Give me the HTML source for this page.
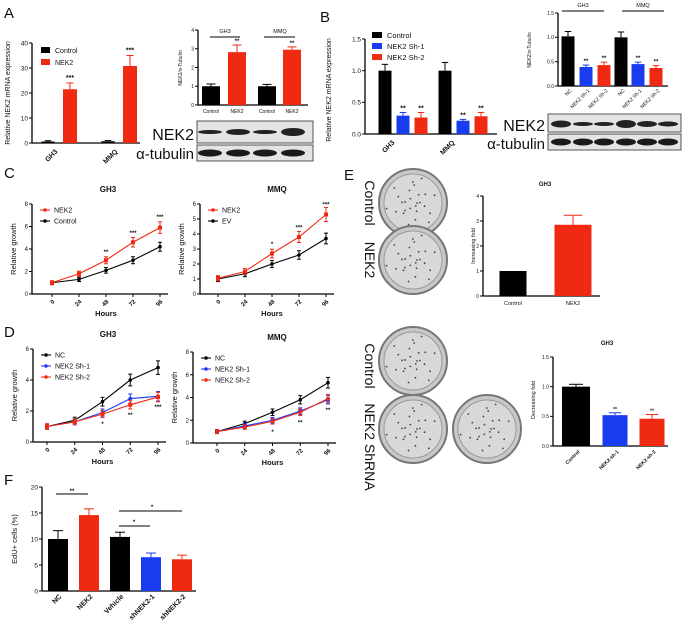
<!DOCTYPE html>
<html><head><meta charset="utf-8">
<style>
body{margin:0;background:#fff;}
svg{display:block;font-family:"Liberation Sans",Arial,sans-serif;}
text{fill:#111;}
</style></head>
<body>
<svg id="fig" width="685" height="631" viewBox="0 0 685 631" xmlns="http://www.w3.org/2000/svg">
<rect width="685" height="631" fill="#fff"/>
<g id="static">
<text x="4" y="18" font-size="15">A</text>
<text x="320" y="22" font-size="15">B</text>
<text x="4" y="178" font-size="15">C</text>
<text x="4" y="337" font-size="15">D</text>
<text x="344" y="180" font-size="15">E</text>
<text x="4" y="485" font-size="15">F</text>
</g>
</svg>
<script>
// ---------- DATA ----------
const aCats=["GH3","MMQ"];
const aControl=[0.6,0.7];
const aControlErr=[0.3,0.3];
const aNek2=[21.5,30.8];
const aNek2Err=[2.5,4.2];
const aTicks=[0,10,20,30,40];

const abCats=["Control","NEK2","Control","NEK2"];
const abVals=[1.0,2.82,1.0,2.95];
const abErr=[0.12,0.38,0.1,0.15];
const abTicks=[0,1,2,3,4];

const bCats=["GH3","MMQ"];
const bControl=[1.0,1.0];
const bSh1=[0.29,0.21];
const bSh2=[0.26,0.28];
const bErrC=[0.1,0.13];
const bErr1=[0.05,0.02];
const bErr2=[0.08,0.06];
const bTicks=[0,0.5,1.0,1.5];

const bbCats=["NC","NEK2 Sh-1","NEK2 Sh-2","NC","NEK2 Sh-1","NEK2 Sh-2"];
const bbVals=[1.02,0.39,0.43,1.0,0.45,0.37];
const bbErr=[0.1,0.04,0.06,0.11,0.04,0.05];
const bbTicks=[0,0.5,1.0,1.5];

const hours=[0,24,48,72,96];
const cGH3Nek2=[1.0,1.8,3.0,4.6,5.9];
const cGH3Ctrl=[1.0,1.3,2.1,3.0,4.2];
const cMMQNek2=[1.05,1.5,2.7,3.8,5.3];
const cMMQEv=[1.0,1.35,2.0,2.6,3.7];
const dGH3NC=[1.0,1.4,2.6,4.0,4.8];
const dGH3Sh1=[1.0,1.3,1.9,2.8,2.95];
const dGH3Sh2=[1.0,1.3,1.8,2.4,2.9];
const dMMQNC=[1.0,1.7,2.7,3.8,5.3];
const dMMQSh1=[1.0,1.5,2.0,2.8,3.8];
const dMMQSh2=[1.0,1.4,1.9,2.7,3.9];

const e1Cats=["Control","NEK2"];
const e1Vals=[1.0,2.85];
const e1Err=[0,0.38];
const e1Ticks=[0,1,2,3,4];
const e2Cats=["Control","NEK2-sh-1","NEK2-sh-2"];
const e2Vals=[1.0,0.52,0.46];
const e2Err=[0.04,0.04,0.07];
const e2Ticks=[0,0.5,1.0,1.5];

const fCats=["NC","NEK2","Vehicle","shNEK2-1","shNEK2-2"];
const fVals=[10.0,14.6,10.4,6.5,6.1];
const fErr=[1.6,1.2,0.9,0.8,0.8];
const fTicks=[0,5,10,15,20];

// ---------- HELPERS ----------
const NS="http://www.w3.org/2000/svg";
const svg=document.getElementById('fig');
function el(tag,attrs,parent,txt){const e=document.createElementNS(NS,tag);for(const k in attrs)e.setAttribute(k,attrs[k]);if(txt!==undefined)e.textContent=txt;(parent||svg).appendChild(e);return e;}
const RED="#f02a12",BLUE="#1a3cf0",BLK="#000";
function lin(d0,d1,r0,r1){return v=>r0+(v-d0)*(r1-r0)/(d1-d0);}

function yAxis(g,x,y,ticks,fs,fmt){
  const a=el('line',{x1:x,y1:y(ticks[0]),x2:x,y2:y(ticks[ticks.length-1]),stroke:'#000','stroke-width':1.3},g);
  
  
  ticks.forEach(t=>{
    el('line',{x1:x-3,y1:y(t),x2:x,y2:y(t),stroke:'#000','stroke-width':1},g);
    const tx=el('text',{x:x-4,y:y(t)+fs*0.35,'font-size':fs,'text-anchor':'end'},g,fmt?fmt(t):t);
    
    
  });
}
function xAxisLine(g,x0,x1,y){const l=el('line',{x1:x0,y1:y,x2:x1,y2:y,stroke:'#000','stroke-width':1.3},g);
  
  }
function bar(g,cx,w,y,v,err,color,name){
  const r=el('rect',{x:cx-w/2,y:y(v),width:w,height:y(0)-y(v),fill:color},g);
  
  
  if(err>0){el('line',{x1:cx,y1:y(v),x2:cx,y2:y(v+err),stroke:color,'stroke-width':1},g);
    el('line',{x1:cx-w*0.25,y1:y(v+err),x2:cx+w*0.25,y2:y(v+err),stroke:color,'stroke-width':1},g);}
}
function star(g,x,y,s,fs){el('text',{x:x,y:y,'font-size':fs||7,'text-anchor':'middle','font-weight':'bold'},g,s);}
function ylabel(g,x,y,t,fs){const e=el('text',{x:x,y:y,'font-size':fs,'text-anchor':'middle',transform:`rotate(-90 ${x} ${y})`},g,t);
  
  }
function rotLabel(g,x,y,t,fs,bold){el('text',{x:x,y:y,'font-size':fs,'text-anchor':'end','font-weight':bold?'bold':'normal',transform:`rotate(-45 ${x} ${y})`},g,t);}
function group(name){const g=el('g',{});return g;}

// ---------- PANEL A main ----------
(function(){
  const g=group('panel-a-mrna-chart');
  const y=lin(0,40,143,43);
  yAxis(g,32,y,aTicks,6.5);
  xAxisLine(g,32,140,143);
  ylabel(g,10,93,'Relative NEK2 mRNA expression',7);
  const gc=[55,115];
  aCats.forEach((c,i)=>{
    bar(g,gc[i]-7,13,y,aControl[i],aControlErr[i],BLK,'bar-control-'+c);
    bar(g,gc[i]+15,14,y,aNek2[i],aNek2Err[i],RED,'bar-nek2-'+c);
    star(g,gc[i]+15,y(aNek2[i]+aNek2Err[i])-3,'***');
    rotLabel(g,gc[i]+3,152,c,7,true);
  });
  el('rect',{x:41,y:47,width:9,height:6,fill:BLK},g);
  el('text',{x:55,y:53,'font-size':7},g,'Control');
  el('rect',{x:41,y:59,width:9,height:6,fill:RED},g);
  el('text',{x:55,y:65,'font-size':7},g,'NEK2');
})();

// ---------- PANEL A blot chart ----------
(function(){
  const g=group('panel-a-blot-quant');
  const y=lin(0,4,105,30);
  yAxis(g,198,y,abTicks,5);
  xAxisLine(g,198,308,105);
  ylabel(g,182,68,'NEK2/α-Tubulin',5);
  const xs=[211,237,267,292];
  abCats.forEach((c,i)=>{
    bar(g,xs[i],18,y,abVals[i],abErr[i],i%2?RED:BLK,'bar-'+c+'-'+i);
    el('text',{x:xs[i],y:113,'font-size':5,'text-anchor':'middle'},g,c);
    if(i%2)star(g,xs[i],y(abVals[i]+abErr[i])-2,'**',6);
  });
  el('line',{x1:210,y1:37,x2:240,y2:37,stroke:'#000'},g);
  el('line',{x1:264,y1:37,x2:295,y2:37,stroke:'#000'},g);
  el('text',{x:225,y:33,'font-size':5.5,'text-anchor':'middle'},g,'GH3');
  el('text',{x:280,y:33,'font-size':5.5,'text-anchor':'middle'},g,'MMQ');
  el('rect',{x:197,y:121,width:116,height:22,fill:'#e4e4e4',stroke:'#555'},g);
  el('rect',{x:197,y:145,width:116,height:16,fill:'#e4e4e4',stroke:'#555'},g);
  [[210,2],[238,3],[265,2],[293,4]].forEach(b=>el('ellipse',{cx:b[0],cy:132,rx:12,ry:b[1],fill:'#222'},g));
  [210,238,265,293].forEach(c=>el('ellipse',{cx:c,cy:153,rx:12,ry:3.5,fill:'#1a1a1a'},g));
  el('text',{x:194,y:140,'font-size':16,'text-anchor':'end'},g,'NEK2');
  el('text',{x:194,y:159,'font-size':15,'text-anchor':'end'},g,'α-tubulin');
})();

// ---------- PANEL B main ----------
(function(){
  const g=group('panel-b-mrna-chart');
  const y=lin(0,1.5,134,39);
  yAxis(g,365,y,bTicks,6.5,t=>t.toFixed(1));
  xAxisLine(g,365,497,134);
  ylabel(g,331,90,'Relative NEK2 mRNA expression',7);
  const gc=[403,463];
  const sets=[[bControl,bErrC,BLK,'control'],[bSh1,bErr1,BLUE,'sh1'],[bSh2,bErr2,RED,'sh2']];
  bCats.forEach((c,i)=>{
    sets.forEach((s,j)=>{
      const cx=gc[i]-18+j*18;
      bar(g,cx,13,y,s[0][i],s[1][i],s[2],'bar-'+s[3]+'-'+c);
      if(j>0)star(g,cx,y(s[0][i]+s[1][i])-2,'**');
    });
    rotLabel(g,gc[i]-8,143,c,7,true);
  });
  [['Control',BLK],['NEK2 Sh-1',BLUE],['NEK2 Sh-2',RED]].forEach((l,i)=>{
    el('rect',{x:372,y:32+i*11,width:10,height:6,fill:l[1]},g);
    el('text',{x:387,y:38+i*11,'font-size':7.5},g,l[0]);
  });
})();

// ---------- PANEL B blot chart ----------
(function(){
  const g=group('panel-b-blot-quant');
  const y=lin(0,1.5,86,13);
  yAxis(g,558,y,bbTicks,5,t=>t.toFixed(1));
  xAxisLine(g,558,668,86);
  ylabel(g,531,50,'NEK2/α-Tubulin',5);
  const xs=[568,586,604,621,638,656];
  const cols=[BLK,BLUE,RED,BLK,BLUE,RED];
  bbCats.forEach((c,i)=>{
    bar(g,xs[i],13,y,bbVals[i],bbErr[i],cols[i],'bar-'+c+'-'+i);
    if(i%3)star(g,xs[i],y(bbVals[i]+bbErr[i])-2,'**',6);
    rotLabel(g,xs[i]+4,91,c,5);
  });
  el('line',{x1:562,y1:11,x2:604,y2:11,stroke:'#000'},g);
  el('line',{x1:622,y1:11,x2:664,y2:11,stroke:'#000'},g);
  el('text',{x:583,y:7,'font-size':5.5,'text-anchor':'middle'},g,'GH3');
  el('text',{x:643,y:7,'font-size':5.5,'text-anchor':'middle'},g,'MMQ');
  el('rect',{x:548,y:114,width:133,height:18,fill:'#e4e4e4',stroke:'#555'},g);
  el('rect',{x:548,y:134,width:133,height:16,fill:'#e4e4e4',stroke:'#555'},g);
  [[561,3.5],[583,2],[604,2],[626,4],[647,3],[668,2.5]].forEach(b=>el('ellipse',{cx:b[0],cy:124,rx:10,ry:b[1],fill:'#222'},g));
  [561,583,604,626,647,668].forEach(c=>el('ellipse',{cx:c,cy:142,rx:10,ry:3.5,fill:'#1a1a1a'},g));
  el('text',{x:545,y:131,'font-size':16,'text-anchor':'end'},g,'NEK2');
  el('text',{x:545,y:149,'font-size':15,'text-anchor':'end'},g,'α-tubulin');
})();

// ---------- LINE CHARTS ----------
function lineChart(name,title,ax,x0,x1,yTop,yBot,ymax,ticks,series,legend,stars,titleX){
  const g=group(name);
  const x=lin(0,96,x0,x1);
  const y=lin(0,ymax,yBot,yTop);
  yAxis(g,ax,y,ticks,6);
  xAxisLine(g,ax,x1+8,yBot);
  ylabel(g,ax-16,(yTop+yBot)/2,'Relative growth',7.5);
  el('text',{x:titleX,y:yTop-12,'font-size':8,'font-weight':'bold','text-anchor':'middle'},g,title);
  hours.forEach(h=>{el('line',{x1:x(h),y1:yBot,x2:x(h),y2:yBot+3,stroke:'#000'},g);
    rotLabel(g,x(h)+3,yBot+8,String(h),6,true);});
  el('text',{x:(x0+x1)/2,y:yBot+22,'font-size':7.5,'font-weight':'bold','text-anchor':'middle'},g,'Hours');
  series.forEach(s=>{
    const p=el('polyline',{points:s.v.map((v,i)=>x(hours[i])+','+y(v)).join(' '),fill:'none',stroke:s.c,'stroke-width':1.1},g);
    
    
    s.v.forEach((v,i)=>{
      const e=v*0.07+0.1;
      el('line',{x1:x(hours[i]),y1:y(v-e),x2:x(hours[i]),y2:y(v+e),stroke:s.c},g);
      el('line',{x1:x(hours[i])-2,y1:y(v+e),x2:x(hours[i])+2,y2:y(v+e),stroke:s.c},g);
      el('line',{x1:x(hours[i])-2,y1:y(v-e),x2:x(hours[i])+2,y2:y(v-e),stroke:s.c},g);
      if(s.sq)el('rect',{x:x(hours[i])-2,y:y(v)-2,width:4,height:4,fill:s.c},g);
      else el('circle',{cx:x(hours[i]),cy:y(v),r:1.8,fill:s.c},g);
    });
  });
  legend.forEach((l,i)=>{
    const ly=yTop+6+i*11;
    el('line',{x1:ax+8,y1:ly,x2:ax+18,y2:ly,stroke:l[1],'stroke-width':1.1},g);
    el('circle',{cx:ax+13,cy:ly,r:1.8,fill:l[1]},g);
    el('text',{x:ax+22,y:ly+2.5,'font-size':7},g,l[0]);
  });
  stars.forEach(s=>star(g,x(hours[s[0]]),s[2]?y(s[1])+9:y(s[1])-3,s[3],6));
}
lineChart('panel-c-gh3','GH3',32,52,160,204,294,8,[0,2,4,6,8],
  [{v:cGH3Ctrl,c:BLK,n:'control'},{v:cGH3Nek2,c:RED,n:'nek2',sq:true}],
  [['NEK2',RED],['Control',BLK]],
  [[2,3.3,0,'**'],[3,5.0,0,'***'],[4,6.4,0,'***']],108);
lineChart('panel-c-mmq','MMQ',200,218,326,204,294,6,[0,1,2,3,4,5,6],
  [{v:cMMQEv,c:BLK,n:'ev'},{v:cMMQNek2,c:RED,n:'nek2',sq:true}],
  [['NEK2',RED],['EV',BLK]],
  [[2,3.0,0,'*'],[3,4.1,0,'***'],[4,5.65,0,'***']],277);
lineChart('panel-d-gh3','GH3',33,47,158,349,442,6,[0,2,4,6],
  [{v:dGH3NC,c:BLK,n:'nc'},{v:dGH3Sh1,c:BLUE,n:'sh1'},{v:dGH3Sh2,c:RED,n:'sh2',sq:true}],
  [['NC',BLK],['NEK2 Sh-1',BLUE],['NEK2 Sh-2',RED]],
  [[2,1.6,1,'*'],[3,2.2,1,'**'],[4,2.7,1,'***']],108);
lineChart('panel-d-mmq','MMQ',193,217,328,352,443,8,[0,2,4,6,8],
  [{v:dMMQNC,c:BLK,n:'nc'},{v:dMMQSh1,c:BLUE,n:'sh1',sq:true},{v:dMMQSh2,c:RED,n:'sh2'}],
  [['NC',BLK],['NEK2 Sh-1',BLUE],['NEK2 Sh-2',RED]],
  [[2,1.6,1,'*'],[3,2.4,1,'**'],[4,3.5,1,'**']],277);

// ---------- PANEL E ----------
(function(){
  const g=group('panel-e-colony');
  function plate(cx,cy,name){
    const c=el('circle',{cx:cx,cy:cy,r:34,fill:'#c8c8c8',stroke:'#777','stroke-width':2},g);
    
    
    el('circle',{cx:cx,cy:cy,r:29,fill:'#d8d8d8',stroke:'#999','stroke-width':1},g);
    for(let k=0;k<26;k++){const a=k*2.39,r=4+((k*7)%24);el('circle',{cx:cx+r*Math.cos(a),cy:cy+r*Math.sin(a),r:0.9,fill:'#444'},g);}
  }
  plate(413,203,'plate-control');plate(413,260,'plate-nek2');
  plate(413,361,'plate-control-2');plate(413,429,'plate-shrna-1');plate(487,429,'plate-shrna-2');
  [['Control',365,203],['NEK2',365,260],['Control',365,366],['NEK2 ShRNA',365,447]].forEach(t=>
    el('text',{x:t[1],y:t[2],'font-size':14,'text-anchor':'middle',transform:`rotate(90 ${t[1]} ${t[2]})`},g,t[0]));
  const y1=lin(0,4,296,196);
  yAxis(g,483,y1,e1Ticks,5);
  xAxisLine(g,483,600,296);
  ylabel(g,475,246,'Increasing fold',5.5);
  el('text',{x:545,y:186,'font-size':6,'font-weight':'bold','text-anchor':'middle'},g,'GH3');
  const x1=[513,573];
  e1Cats.forEach((c,i)=>{bar(g,x1[i],i?37:27,y1,e1Vals[i],e1Err[i],i?RED:BLK,'bar-e1-'+c);
    el('text',{x:x1[i],y:305,'font-size':5.5,'text-anchor':'middle'},g,c);});
  const y2=lin(0,1.5,446,357);
  yAxis(g,553,y2,e2Ticks,5,t=>t.toFixed(1));
  xAxisLine(g,553,668,446);
  ylabel(g,535,400,'Decreasing fold',5.5);
  el('text',{x:607,y:345,'font-size':6,'font-weight':'bold','text-anchor':'middle'},g,'GH3');
  const x2=[576,615,652];
  const c2=[BLK,BLUE,RED];
  e2Cats.forEach((c,i)=>{bar(g,x2[i],i?25:28,y2,e2Vals[i],e2Err[i],c2[i],'bar-e2-'+c);
    if(i)star(g,x2[i],y2(e2Vals[i]+e2Err[i])-2,'**',5);
    rotLabel(g,x2[i]+4,452,c,5,true);});
})();

// ---------- PANEL F ----------
(function(){
  const g=group('panel-f-edu');
  const y=lin(0,20,591,487);
  yAxis(g,42,y,fTicks,6.5);
  xAxisLine(g,42,196,591);
  ylabel(g,17,539,'EdU+ cells (%)',7.5);
  const cols=[BLK,RED,BLK,BLUE,RED];
  fCats.forEach((c,i)=>{
    const cx=58+i*31;
    bar(g,cx,20,y,fVals[i],fErr[i],cols[i],'bar-'+c);
    rotLabel(g,cx+4,597,c,7,true);
  });
  el('line',{x1:56,y1:494,x2:88,y2:494,stroke:'#000'},g);star(g,72,493,'**',6);
  el('line',{x1:119,y1:511,x2:182,y2:511,stroke:'#000'},g);star(g,152,509,'*',6);
  el('line',{x1:119,y1:526,x2:150,y2:526,stroke:'#000'},g);star(g,134,524,'*',6);
})();
</script>
</body></html>
